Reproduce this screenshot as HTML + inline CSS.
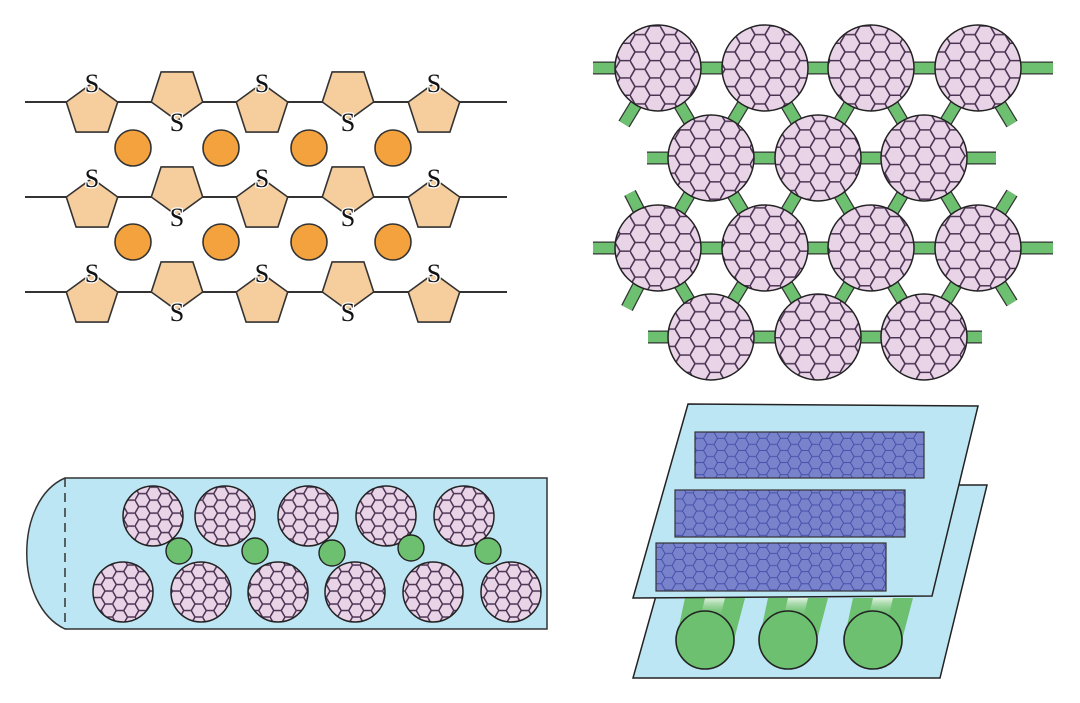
<!DOCTYPE html>
<html><head><meta charset="utf-8"><style>html,body{margin:0;padding:0;background:#fff;width:1080px;height:703px;overflow:hidden}</style></head>
<body>
<svg id="s" width="1080" height="703" viewBox="0 0 1080 703" xmlns="http://www.w3.org/2000/svg">
<defs>
<pattern id="hexA" patternUnits="userSpaceOnUse" width="30" height="17.32">
<rect width="30" height="17.32" fill="#e8d3e7"/>
<path d="M0,8.66 L5,0 L15,0 L20,8.66 L15,17.32 L5,17.32 Z M20,8.66 L30,8.66" fill="none" stroke="#4b3453" stroke-width="1.6"/>
</pattern>
<pattern id="hexB" patternUnits="userSpaceOnUse" width="22.5" height="12.99">
<rect width="22.5" height="12.99" fill="#e8d3e7"/>
<path d="M0,6.5 L3.75,0 L11.25,0 L15,6.5 L11.25,12.99 L3.75,12.99 Z M15,6.5 L22.5,6.5" fill="none" stroke="#4b3453" stroke-width="1.5"/>
</pattern>
<pattern id="hexC" patternUnits="userSpaceOnUse" width="21" height="12.12" patternTransform="translate(0,2)">
<rect width="21" height="12.12" fill="#7983cc"/>
<path d="M0,6.06 L3.5,0 L10.5,0 L14,6.06 L10.5,12.12 L3.5,12.12 Z M14,6.06 L21,6.06" fill="none" stroke="#4450aa" stroke-width="1"/>
</pattern>
<linearGradient id="gb" x1="0" y1="0" x2="0" y2="1">
<stop offset="0" stop-color="#ffffff" stop-opacity="0.8"/>
<stop offset="0.5" stop-color="#6cc070" stop-opacity="0"/>
</linearGradient>
</defs>
<g id="tl"></g>
<g id="tr"></g>
<g id="bl"></g>
<g id="br"></g>
</svg>
<script>
const NS="http://www.w3.org/2000/svg";
function el(p,t,a,txt){const e=document.createElementNS(NS,t);for(const k in a)e.setAttribute(k,a[k]);if(txt)e.textContent=txt;document.getElementById(p).appendChild(e);return e;}
const R=27;
function pent(cx,cy,up){let pts=[];for(let i=0;i<5;i++){let a=(up?-90:90)+72*i;a*=Math.PI/180;pts.push((cx+R*Math.cos(a)).toFixed(1)+","+(cy+R*Math.sin(a)).toFixed(1));}return pts.join(" ");}
const ts={"text-anchor":"middle","font-family":"Liberation Serif, serif","font-size":26,fill:"#111",stroke:"#fff","stroke-width":2.5,"paint-order":"stroke"};
[102,197,292].forEach((ly,ri)=>{
 el("tl","line",{x1:25,y1:ly,x2:507,y2:ly,stroke:"#333","stroke-width":2});
 [92,262,434].forEach(cx=>{el("tl","polygon",{points:pent(cx,ly+8.3,true),fill:"#f6cd9c",stroke:"#333","stroke-width":1.6});
  el("tl","text",Object.assign({x:cx,y:ly-10},ts),"S");});
 [177,348].forEach(cx=>{el("tl","polygon",{points:pent(cx,ly-8.3,false),fill:"#f6cd9c",stroke:"#333","stroke-width":1.6});
  el("tl","text",Object.assign({x:cx,y:ly+29},ts),"S");});
});
[148,242].forEach(cy=>[133,221,309,393].forEach(cx=>el("tl","circle",{cx:cx,cy:cy,r:18,fill:"#f4a23e",stroke:"#333","stroke-width":1.6})));
const X1=[658,765,871,978],X2=[711,818,924],Y=[68,158,248,337];
function bar(x1,y1,x2,y2){el("tr","line",{x1,y1,x2,y2,stroke:"#333","stroke-width":13});}
function bari(x1,y1,x2,y2){el("tr","line",{x1,y1,x2,y2,stroke:"#6cc070","stroke-width":10.5});}
let bars=[[593,68,1053,68],[647,158,996,158],[593,248,1053,248],[648,337,982,337]];
[[0,1],[2,1],[2,3]].forEach(([a,b])=>X1.forEach(x=>X2.forEach(x2=>{if(Math.abs(x-x2)<60)bars.push([x,Y[a],x2,Y[b]]);})));
bars.push([658,68,624,124],[978,68,1012,124],[658,248,630,193],[658,248,627,308],[978,248,1012,193],[978,248,1012,303]);
bars.forEach(b=>bar(...b));bars.forEach(b=>bari(...b));
[[X1,Y[0]],[X2,Y[1]],[X1,Y[2]],[X2,Y[3]]].forEach(([xs,y])=>xs.forEach(x=>el("tr","circle",{cx:x,cy:y,r:43,fill:"url(#hexA)",stroke:"#222","stroke-width":1.5})));
el("bl","path",{d:"M65,478 L547,478 L547,629 L65,629 C14,605 14,500 65,478 Z",fill:"#bde6f4",stroke:"#333","stroke-width":1.5});
el("bl","line",{x1:65,y1:478,x2:65,y2:629,stroke:"#333","stroke-width":1.5,"stroke-dasharray":"9,6"});
[153,225,308,386,464].forEach(x=>el("bl","circle",{cx:x,cy:516,r:30,fill:"url(#hexB)",stroke:"#222","stroke-width":1.5}));
[123,201,278,355,433,511].forEach(x=>el("bl","circle",{cx:x,cy:592,r:30,fill:"url(#hexB)",stroke:"#222","stroke-width":1.5}));
[[179,551],[255,551],[332,553],[411,548],[488,551]].forEach(([x,y])=>el("bl","circle",{cx:x,cy:y,r:13,fill:"#6cc070",stroke:"#222","stroke-width":1.4}));
el("br","polygon",{points:"687,485 987,485 940,678 633,678",fill:"#bde6f4",stroke:"#222","stroke-width":1.5});
[705,788,873].forEach(cx=>{
 el("br","polygon",{points:`${cx-29},640 ${cx-20},598 ${cx+40},598 ${cx+29},640`,fill:"#6cc070"});
 el("br","polygon",{points:`${cx-10},640 ${cx},598 ${cx+20},598 ${cx+10},640`,fill:"url(#gb)"});
 el("br","circle",{cx:cx,cy:640,r:29,fill:"#6cc070",stroke:"#222","stroke-width":1.6});
});
el("br","polygon",{points:"688,404 978,406 932,596 633,598",fill:"#bde6f4",stroke:"#222","stroke-width":1.5});
[[695,432,229,46],[675,490,230,47],[656,543,230,48]].forEach(([x,y,w,h])=>el("br","rect",{x,y,width:w,height:h,fill:"url(#hexC)",stroke:"#333","stroke-width":1.2}));
</script>
</body></html>
